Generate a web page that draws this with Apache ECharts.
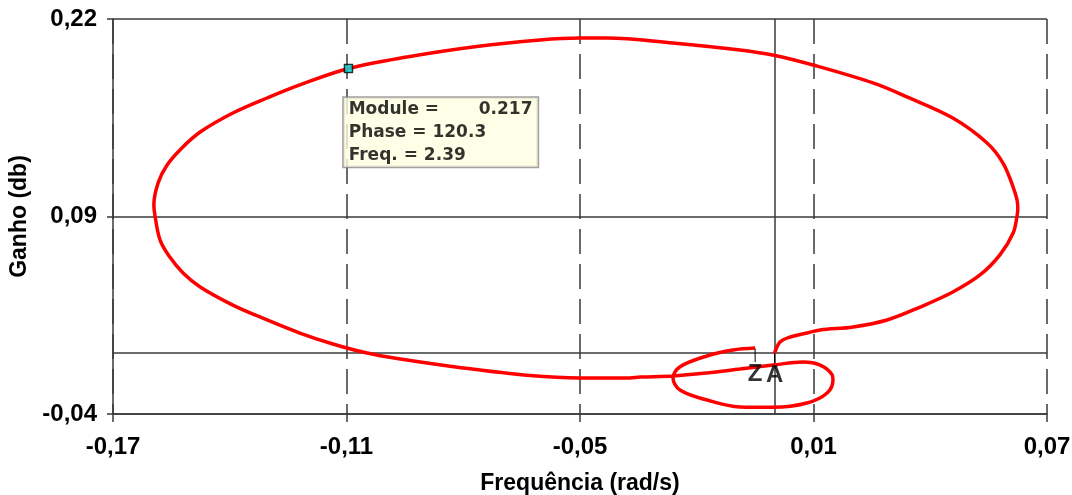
<!DOCTYPE html>
<html>
<head>
<meta charset="utf-8">
<script src="https://cdn.jsdelivr.net/npm/echarts@6/dist/echarts.min.js"></script>
<style>
html,body{margin:0;padding:0;background:#fff;}
#chart{width:1072px;height:495px;}
</style>
</head>
<body>
<div id="chart"></div>
<script>
// ---- Data ----
const curveX = [-0.0050,-0.0107,-0.0174,-0.0243,-0.0261,-0.0243,-0.0174,-0.0089,-0.0004,0.0083,0.0135,0.0150,0.0148,0.0117,0.0073,-0.0004,-0.0089,-0.0174,-0.0261,-0.0346,-0.0372,-0.0500,-0.0629,-0.0801,-0.0970,-0.1047,-0.1135,-0.1220,-0.1304,-0.1392,-0.1476,-0.1520,-0.1554,-0.1579,-0.1592,-0.1595,-0.1584,-0.1561,-0.1523,-0.1476,-0.1392,-0.1304,-0.1220,-0.1095,-0.0945,-0.0775,-0.0603,-0.0500,-0.0431,-0.0261,-0.0089,0.0001,0.0099,0.0253,0.0340,0.0458,0.0546,0.0587,0.0613,0.0623,0.0625,0.0623,0.0613,0.0579,0.0528,0.0458,0.0374,0.0289,0.0202,0.0117,0.0083,0.0040,0.0014,0.0000];
const curveY = [0.0034,0.0021,-0.0018,-0.0089,-0.0163,-0.0242,-0.0308,-0.0354,-0.0356,-0.0328,-0.0262,-0.0176,-0.0143,-0.0078,-0.0058,-0.0078,-0.0104,-0.0130,-0.0150,-0.0157,-0.0163,-0.0163,-0.0147,-0.0097,-0.0035,0.0001,0.0061,0.0133,0.0219,0.0317,0.0436,0.0528,0.0633,0.0745,0.0903,0.0976,0.1121,0.1239,0.1351,0.1456,0.1581,0.1680,0.1766,0.1874,0.1950,0.2016,0.2062,0.2075,0.2075,0.2042,0.1996,0.1960,0.1897,0.1779,0.1687,0.1548,0.1384,0.1252,0.1094,0.1009,0.0956,0.0903,0.0791,0.0647,0.0515,0.0403,0.0304,0.0219,0.0173,0.0153,0.0133,0.0107,0.0074,0.0000];

const markerModule = 0.217;
const markerPhase = 120.3;
const markerFreq = 2.39;
const markerPoint = [-0.1095, 0.1874];

const zaPoints = [[-0.0050, 0.0034], [0.0000, 0.0000]];
const zaLabels = ['Z', 'A'];

const xTickValues = [-0.17, -0.11, -0.05, 0.01, 0.07];
const xTickLabels = ['-0,17', '-0,11', '-0,05', '0,01', '0,07'];
const yTickValues = [-0.04, 0.09, 0.22];
const yTickLabels = ['-0,04', '0,09', '0,22'];

const xTitle = 'Frequência (rad/s)';
const yTitle = 'Ganho (db)';

// ---- Build ----
function lookup(vals, labels) {
  return function (v) {
    const i = vals.findIndex(t => Math.abs(t - v) < 1e-6);
    return i >= 0 ? labels[i] : '';
  };
}
const curveData = curveX.map((x, i) => [x, curveY[i]]);
const axisColor = '#3a3a3a';
const FONT = '"Liberation Sans", Arial, sans-serif';
const TIPFONT = '"DejaVu Sans", sans-serif';

const chart = echarts.init(document.getElementById('chart'), null, {renderer: 'canvas'});
const option = {
  animation: false,
  backgroundColor: '#fff',
  grid: {left: 113, right: 25, top: 19, bottom: 81, containLabel: false, outerBoundsMode: 'none'},
  xAxis: {
    type: 'value', min: -0.17, max: 0.07, interval: 0.06,
    name: xTitle, nameLocation: 'middle', nameGap: 58,
    nameTextStyle: {fontSize: 23, fontWeight: 'bold', fontFamily: FONT, color: '#000'},
    axisLine: {show: true, onZero: false, lineStyle: {color: axisColor, width: 1.5}},
    axisTick: {show: true, length: 8, lineStyle: {color: axisColor, width: 1.5}},
    axisLabel: {margin: 21, fontSize: 24, fontWeight: 'bold', fontFamily: FONT, color: '#000', formatter: lookup(xTickValues, xTickLabels)},
    splitLine: {show: true, lineStyle: {color: axisColor, width: 1.5, type: [25, 10]}}
  },
  yAxis: {
    type: 'value', min: -0.04, max: 0.22, interval: 0.13,
    name: yTitle, nameLocation: 'middle', nameGap: 80,
    nameTextStyle: {fontSize: 23, fontWeight: 'bold', fontFamily: FONT, color: '#000'},
    axisLine: {show: true, onZero: false, lineStyle: {color: axisColor, width: 1.5}},
    axisTick: {show: true, length: 6, lineStyle: {color: axisColor, width: 1.5}},
    axisLabel: {margin: 16, fontSize: 24, fontWeight: 'bold', fontFamily: FONT, color: '#000', formatter: lookup(yTickValues, yTickLabels)},
    splitLine: {show: true, lineStyle: {color: axisColor, width: 1.5, type: 'solid'}}
  },
  series: [
    {
      type: 'line',
      data: curveData,
      symbol: 'none',
      smooth: 0.35,
      lineStyle: {color: '#ff0000', width: 3.5},
      z: 3,
      markLine: {
        silent: true,
        symbol: ['none', 'none'],
        label: {show: false},
        lineStyle: {color: axisColor, width: 1.5, type: 'solid'},
        data: [{xAxis: 0}, {yAxis: 0}],
        z: 1
      }
    },
    {
      type: 'scatter',
      data: [markerPoint],
      symbol: 'rect',
      symbolSize: 8,
      itemStyle: {color: '#00e5e5', borderColor: '#000', borderWidth: 1.5},
      z: 5,
      label: {
        show: true,
        position: [0, 34],
        align: 'left',
        verticalAlign: 'top',
        backgroundColor: '#ffffe1',
        borderColor: '#8a8a8a',
        borderWidth: 1.5,
        padding: [0, 5, 0, 5],
        lineHeight: 23,
        formatter: function () {
          return '{m|Module =}{v|' + markerModule.toFixed(3) + '}\n' +
                 '{t|Phase = ' + markerPhase.toFixed(1) + '}\n' +
                 '{t|Freq. = ' + markerFreq.toFixed(2) + '}';
        },
        rich: {
          m: {width: 130, fontSize: 17, fontWeight: 'bold', fontFamily: TIPFONT, color: '#000', lineHeight: 23},
          v: {width: 54, fontSize: 17, fontWeight: 'bold', fontFamily: TIPFONT, color: '#000', lineHeight: 23},
          t: {fontSize: 17, fontWeight: 'bold', fontFamily: TIPFONT, color: '#000', lineHeight: 23}
        }
      }
    },
    {
      type: 'scatter',
      data: zaPoints,
      symbolSize: 1,
      itemStyle: {color: 'rgba(0,0,0,0)'},
      z: 6,
      label: {
        show: true,
        position: 'inside',
        fontSize: 24,
        fontWeight: 'bold',
        fontFamily: FONT,
        color: '#000',
        formatter: function (p) { return zaLabels[p.dataIndex]; }
      },
      labelLine: {show: true, lineStyle: {color: '#000', width: 1}},
      labelLayout: function (p) {
        return {dx: 0, dy: p.dataIndex === 0 ? 26 : 22};
      }
    }
  ]
};
chart.setOption(option);
</script>
</body>
</html>
